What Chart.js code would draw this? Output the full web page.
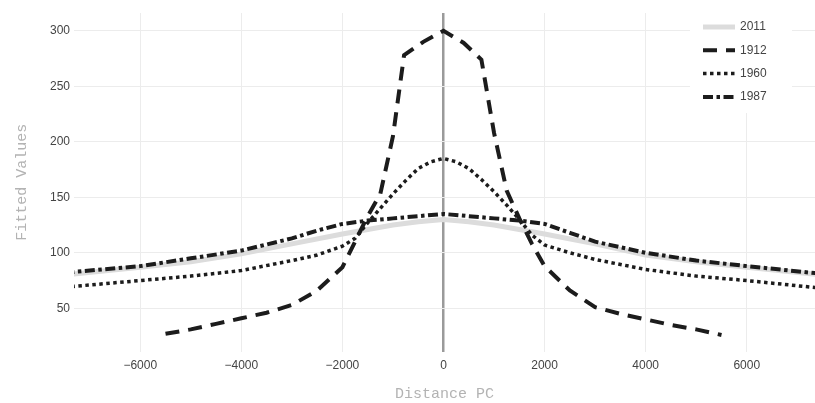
<!DOCTYPE html>
<html>
<head>
<meta charset="utf-8">
<script src="https://cdn.jsdelivr.net/npm/chart.js@4/dist/chart.umd.min.js"></script>
<style>
    html, body { margin: 0; padding: 0; background: #fff; }
    #wrap { width: 815px; height: 403px; }
</style>
</head>
<body>
<div id="wrap"><canvas id="fitChart"></canvas></div>
<script>
// 資料：每個年份的距離與擬合值
const dist2011 = [-7500, -6000, -5000, -4000, -3000, -2000, -1500, -1000, -500, 0, 500, 1000, 1500, 2000, 3000, 4000, 5000, 6000, 7500];
const fit2011  = [80, 87, 92, 99, 108, 117, 121, 125, 128, 130, 128, 125, 121, 117, 108, 98, 92, 87, 80];

const dist1912 = [-5500, -5000, -4500, -4000, -3500, -3000, -2500, -2000, -1750, -1500, -1250, -1000, -780, -400, 0, 400, 750, 1000, 1250, 1500, 1750, 2000, 2500, 3000, 3500, 4000, 4500, 5000, 5500];
const fit1912  = [27, 31, 36, 41, 46, 53, 66, 87, 110, 133, 153, 205, 278, 290, 300, 289, 274, 208, 156, 131, 108, 88, 66, 51, 45, 40, 35, 31, 26];

const dist1960 = [-7500, -6000, -5000, -4000, -3000, -2500, -2000, -1750, -1500, -1250, -1000, -750, -500, -250, 0, 250, 500, 750, 1000, 1250, 1500, 1750, 2000, 2500, 3000, 4000, 5000, 6000, 7500];
const fit1960  = [69, 75, 79, 84, 93, 98, 106, 113, 127, 140, 153, 165, 176, 182, 185, 182, 176, 166, 155, 143, 130, 116, 107, 100, 94, 85, 79, 75, 68];

const dist1987 = [-7500, -6000, -5000, -4000, -3000, -2500, -2000, -1500, -1000, -500, 0, 500, 1000, 1500, 2000, 2500, 3000, 4000, 5000, 6000, 7500];
const fit1987  = [82, 88, 95, 102, 113, 120, 126, 129, 131, 133, 135, 133, 131, 129, 126, 118, 110, 100, 93, 88, 81];

const seriesLabels = ['2011', '1912', '1960', '1987'];
const xTicks = [-6000, -4000, -2000, 0, 2000, 4000, 6000];
const yTicks = [50, 100, 150, 200, 250, 300];

function toPoints(xs, ys) {
    return xs.map((x, i) => ({ x: x, y: ys[i] }));
}

// 圖例（放在繪圖區右上角，白底）
const boxLegend = {
    id: 'boxLegend',
    afterDatasetsDraw(chart) {
        const ctx = chart.ctx;
        const right = chart.chartArea.right;
        ctx.save();
        ctx.fillStyle = '#fff';
        ctx.fillRect(right - 125, 9, 102, 104);
        chart.data.datasets.forEach((ds, i) => {
            const y = 27 + i * 23.3;
            ctx.strokeStyle = ds.borderColor;
            ctx.lineWidth = ds.borderWidth;
            ctx.setLineDash(ds.borderDash || []);
            ctx.beginPath();
            ctx.moveTo(right - 112, y);
            ctx.lineTo(right - 80, y);
            ctx.stroke();
            ctx.setLineDash([]);
            ctx.fillStyle = '#444';
            ctx.font = '12px "Liberation Sans"';
            ctx.textBaseline = 'middle';
            ctx.fillText(ds.label, right - 75, y);
        });
        ctx.restore();
    }
};

function drawChart() {
    const ctx = document.getElementById('fitChart');
    const tickFont = { family: 'Liberation Sans', size: 12 };
    const titleFont = { family: 'Liberation Mono', size: 15 };

    new Chart(ctx, {
        type: 'scatter',
        data: {
            datasets: [
                { label: seriesLabels[0], data: toPoints(dist2011, fit2011), borderColor: '#dcdcdc', borderWidth: 5, order: 5 },
                { label: seriesLabels[1], data: toPoints(dist1912, fit1912), borderColor: '#1c1c1c', borderWidth: 4, borderDash: [14, 9], order: 1 },
                { label: seriesLabels[2], data: toPoints(dist1960, fit1960), borderColor: '#1c1c1c', borderWidth: 3.5, borderDash: [3.5, 3.5], order: 1 },
                { label: seriesLabels[3], data: toPoints(dist1987, fit1987), borderColor: '#1c1c1c', borderWidth: 4, borderDash: [10, 3.5, 3.5, 3.5], order: 1 }
            ].map(ds => Object.assign(ds, { showLine: true, pointRadius: 0, pointHoverRadius: 0, tension: 0, fill: false }))
        },
        options: {
            responsive: true,
            maintainAspectRatio: false,
            animation: false,
            layout: { padding: { left: 9, top: 13, right: 0, bottom: 0 } },
            plugins: {
                legend: { display: false },
                tooltip: { enabled: false }
            },
            scales: {
                x: {
                    type: 'linear',
                    min: -7310,
                    max: 7350,
                    afterBuildTicks: scale => { scale.ticks = xTicks.map(v => ({ value: v })); },
                    border: { display: false },
                    grid: {
                        drawTicks: false,
                        color: c => (c.tick && c.tick.value === 0) ? '#9a9a9a' : '#ececec',
                        lineWidth: c => (c.tick && c.tick.value === 0) ? 2.5 : 1
                    },
                    ticks: {
                        padding: 7,
                        maxRotation: 0,
                        color: '#444',
                        font: tickFont,
                        callback: v => (v < 0 ? '\u2212' + Math.abs(v) : String(v))
                    },
                    title: {
                        display: true,
                        text: 'Distance PC',
                        color: '#b3b3b3',
                        font: titleFont,
                        padding: { top: 5, bottom: 0 }
                    }
                },
                y: {
                    min: 11,
                    max: 316,
                    afterBuildTicks: scale => { scale.ticks = yTicks.map(v => ({ value: v })); },
                    border: { display: false },
                    grid: { drawTicks: false, color: '#ececec' },
                    ticks: {
                        padding: 4,
                        color: '#444',
                        font: tickFont,
                        callback: v => String(v)
                    },
                    title: {
                        display: true,
                        text: 'Fitted Values',
                        color: '#b3b3b3',
                        font: titleFont,
                        padding: { top: 4, bottom: 15 }
                    }
                }
            }
        },
        plugins: [boxLegend]
    });
}

window.addEventListener('load', function() {
    drawChart();
});
</script>
</body>
</html>
